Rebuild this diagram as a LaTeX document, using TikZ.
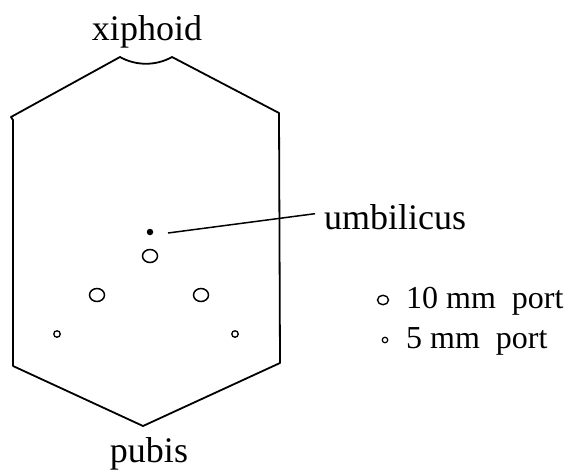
\documentclass[tikz,border=0pt]{standalone}
\usepackage{fontspec}
\setmainfont{Liberation Serif}
\usetikzlibrary{shapes.geometric}
\begin{document}
\begin{tikzpicture}[x=1pt,y=-1pt,
  outline/.style={line width=1.8pt,line join=round,line cap=round},
  bigport/.style={draw,ellipse,line width=1.5pt,minimum width=15pt,minimum height=13pt,inner sep=0pt},
  smallport/.style={draw,circle,line width=1.3pt,minimum size=6.5pt,inner sep=0pt},
  umbdot/.style={fill,circle,minimum size=6.5pt,inner sep=0pt},
  lbl/.style={font=\fontsize{36}{40}\selectfont,inner sep=3pt},
  leg/.style={font=\fontsize{32}{36}\selectfont,inner sep=0pt}]
\useasboundingbox (0,0) rectangle (570,472);
% outline of the abdomen
\coordinate (tl) at (11,117);
\coordinate (nl) at (120,57);
\coordinate (nr) at (172,57);
\coordinate (tr) at (279,113);
\coordinate (br) at (280,363);
\coordinate (bp) at (143,426);
\coordinate (bl) at (13,366);
\draw[outline] (bl) -- (13,120) -- (tl) -- (nl)
  .. controls (136,66) and (156,66) .. (nr) -- (tr) -- (br) -- (bp) -- (bl);
% labels
\node[lbl,anchor=base] (xiph) at (147,40) {xiphoid};
\node[lbl,anchor=base] (pubis) at (149,462) {pubis};
% umbilicus
\node[umbdot] (umb) at (150,232) {};
\node[lbl,anchor=base west] (umblabel) at (321,229) {umbilicus};
\coordinate (ustart) at (168,233);
\draw[line width=1.5pt] (ustart) -- ([xshift=-6pt,yshift=3pt]umblabel.west);
% ports
\node[bigport] (p1) at (150,256) {};
\node[bigport] (p2) at (97,295) {};
\node[bigport] (p3) at (201,295) {};
\node[smallport] (p4) at (57,334) {};
\node[smallport] (p5) at (235,334) {};
% legend
\node[draw,ellipse,line width=1.4pt,minimum width=11pt,minimum height=9.5pt,inner sep=0pt] (leg10) at (383,300) {};
\node[leg,anchor=base west] (leg10t) at (406,308) {10 mm\ \ port};
\node[draw,circle,line width=1.2pt,minimum size=5.5pt,inner sep=0pt] (leg5) at (385,340) {};
\node[leg,anchor=base west] (leg5t) at (406,348) {5 mm\ \ port};
\end{tikzpicture}
\end{document}
